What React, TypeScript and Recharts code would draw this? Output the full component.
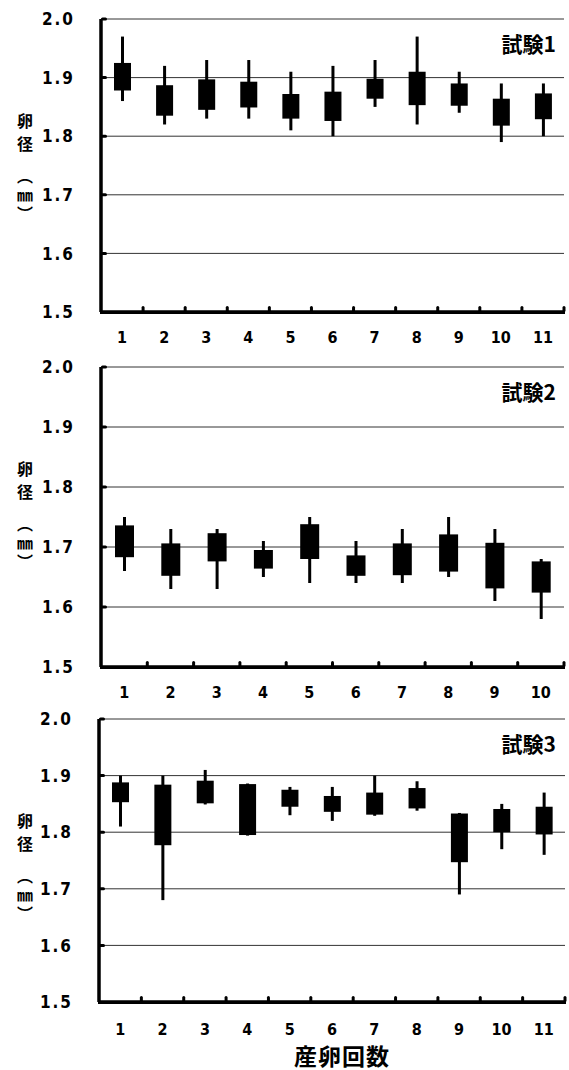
import { ComposedChart, Bar, XAxis, YAxis, CartesianGrid } from 'recharts';

const yTicks = [1.5, 1.6, 1.7, 1.8, 1.9, 2.0];

// 試験1
const cats1 = ['1', '2', '3', '4', '5', '6', '7', '8', '9', '10', '11'];
const max1 = [1.97, 1.92, 1.93, 1.93, 1.91, 1.92, 1.93, 1.97, 1.91, 1.89, 1.89];
const hi1 = [1.925, 1.887, 1.897, 1.893, 1.872, 1.876, 1.898, 1.91, 1.89, 1.864, 1.873];
const lo1 = [1.878, 1.835, 1.845, 1.849, 1.83, 1.826, 1.864, 1.853, 1.852, 1.818, 1.829];
const min1 = [1.86, 1.82, 1.83, 1.83, 1.81, 1.8, 1.85, 1.82, 1.84, 1.79, 1.8];

// 試験2
const cats2 = ['1', '2', '3', '4', '5', '6', '7', '8', '9', '10'];
const max2 = [1.75, 1.73, 1.73, 1.71, 1.75, 1.71, 1.73, 1.75, 1.73, 1.68];
const hi2 = [1.736, 1.706, 1.723, 1.695, 1.738, 1.686, 1.706, 1.721, 1.707, 1.676];
const lo2 = [1.683, 1.652, 1.676, 1.664, 1.68, 1.652, 1.653, 1.659, 1.631, 1.624];
const min2 = [1.66, 1.63, 1.63, 1.65, 1.64, 1.64, 1.64, 1.65, 1.61, 1.58];

// 試験3
const cats3 = ['1', '2', '3', '4', '5', '6', '7', '8', '9', '10', '11'];
const max3 = [1.9, 1.9, 1.91, 1.886, 1.88, 1.88, 1.9, 1.89, 1.834, 1.85, 1.87];
const hi3 = [1.888, 1.884, 1.891, 1.885, 1.875, 1.864, 1.87, 1.878, 1.833, 1.841, 1.845];
const lo3 = [1.853, 1.777, 1.851, 1.795, 1.845, 1.836, 1.831, 1.842, 1.747, 1.8, 1.796];
const min3 = [1.81, 1.68, 1.849, 1.794, 1.83, 1.82, 1.829, 1.838, 1.69, 1.77, 1.76];

const W = 569;
const numFont = "'DejaVu Sans Condensed', 'Liberation Sans Narrow', 'DejaVu Sans', sans-serif";
const jpFont = "'Noto Sans CJK JP', sans-serif";

const yLabelChars = [
    { ch: '卵', dy: 101 },
    { ch: '径', dy: 124 },
    { ch: '︵', dy: 156 },
    { ch: '㎜', dy: 175 },
    { ch: '︶', dy: 194 },
];

// whisker = min..max, box = lo..hi, both scaled from the bar the library laid out
const BoxShape = (props: any) => {
    const { x, y, width, height, payload } = props;
    const [mn, mx] = payload.whisker;
    const [lo, hi] = payload.box;
    const top = Math.min(y, y + height);
    const h = Math.abs(height);
    const k = mx > mn ? h / (mx - mn) : 0;
    const cx = x + width / 2;
    return (
        <g>
            <rect x={cx - 1.5} y={top} width={3} height={h} fill="#000" />
            <rect x={x} y={top + (mx - hi) * k} width={width} height={(hi - lo) * k} fill="#000" />
        </g>
    );
};

interface PanelProps {
    cats: string[];
    max: number[];
    hi: number[];
    lo: number[];
    min: number[];
    title: string;
    top: number;
    height: number;
    mTop: number;
    mBottom: number;
    axisW: number;
    right: number;
    boxW: number;
    labelDy: number;
}

const Panel = ({ cats, max, hi, lo, min, title, top, height, mTop, mBottom, axisW, right, boxW, labelDy }: PanelProps) => {
    const rows = cats.map((n, i) => ({ n, whisker: [min[i], max[i]], box: [lo[i], hi[i]] }));
    const axisY = height - mBottom - 30;
    const bw = (W - right - axisW) / cats.length;

    const XTick = (props: any) => {
        const { x, payload } = props;
        return (
            <g>
                {/* segment of the axis under this category, plus the boundary tick */}
                <rect x={x - bw / 2 - 1} y={axisY - 1.5} width={bw + 2} height={3.5} fill="#000" />
                <rect x={x + bw / 2 - 1.5} y={axisY - 6} width={3} height={6} rx={1.5} fill="#000" />
                <text x={x} y={axisY + labelDy} textAnchor="middle" fontFamily={numFont} fontWeight="bold" fontSize={16} fill="#000">
                    {payload.value}
                </text>
            </g>
        );
    };

    const YTick = (props: any) => {
        const { y, payload } = props;
        return (
            <g>
                {payload.value > 1.5 && (
                    <rect x={axisW} y={y - 1.5} width={6} height={3} rx={1.5} fill="#000" />
                )}
                <text x={axisW - 26} y={y} dy="0.36em" textAnchor="end" fontFamily={numFont} fontWeight="bold" fontSize={17} letterSpacing={2} fill="#000">
                    {payload.value.toFixed(1)}
                </text>
            </g>
        );
    };

    return (
        <div style={{ position: 'absolute', left: 0, top, width: W, height }}>
            <ComposedChart width={W} height={height} data={rows} margin={{ top: mTop, right, left: 0, bottom: mBottom }}>
                <CartesianGrid vertical={false} stroke="#333" strokeWidth={1} />
                <XAxis
                    dataKey="n"
                    height={30}
                    interval={0}
                    axisLine={{ stroke: '#000', strokeWidth: 3 }}
                    tickLine={false}
                    tick={XTick}
                />
                <YAxis
                    domain={[1.5, 2.0]}
                    ticks={yTicks}
                    width={axisW}
                    interval={0}
                    axisLine={{ stroke: '#000', strokeWidth: 3.5 }}
                    tickLine={false}
                    tick={YTick}
                />
                <Bar dataKey="whisker" barSize={boxW} fill="#000" shape={BoxShape} isAnimationActive={false} />
            </ComposedChart>
            {yLabelChars.map((c) => (
                <div
                    key={c.ch}
                    style={{
                        position: 'absolute', left: 25, top: mTop + c.dy, transform: 'translate(-50%, -50%)',
                        fontFamily: jpFont, fontWeight: 'bold', fontSize: 16, lineHeight: 1, color: '#000',
                    }}
                >
                    {c.ch}
                </div>
            ))}
            <div
                style={{
                    position: 'absolute', right: 13, top: mTop + 24, transform: 'translateY(-50%)',
                    fontFamily: jpFont, fontWeight: 'bold', fontSize: 21, lineHeight: 1, color: '#000',
                }}
            >
                {title}
            </div>
        </div>
    );
};

export default function App() {
    return (
        <div style={{ position: 'absolute', left: 0, top: 0, width: W, height: 1070, background: '#fff' }}>
            <Panel cats={cats1} max={max1} hi={hi1} lo={lo1} min={min1} title="試験1"
                top={0} height={350} mTop={19} mBottom={8} axisW={101} right={5} boxW={17} labelDy={31} />
            <Panel cats={cats2} max={max2} hi={hi2} lo={lo2} min={min2} title="試験2"
                top={350} height={358} mTop={17} mBottom={11} axisW={101} right={5} boxW={19} labelDy={31} />
            <Panel cats={cats3} max={max3} hi={hi3} lo={lo3} min={min3} title="試験3"
                top={700} height={370} mTop={19} mBottom={38} axisW={99} right={4} boxW={17} labelDy={33} />
            <div
                style={{
                    position: 'absolute', left: 342, top: 1055, transform: 'translate(-50%, -50%)',
                    fontFamily: jpFont, fontWeight: 'bold', fontSize: 23, lineHeight: 1, letterSpacing: 1, color: '#000',
                    whiteSpace: 'nowrap',
                }}
            >
                産卵回数
            </div>
        </div>
    );
}
